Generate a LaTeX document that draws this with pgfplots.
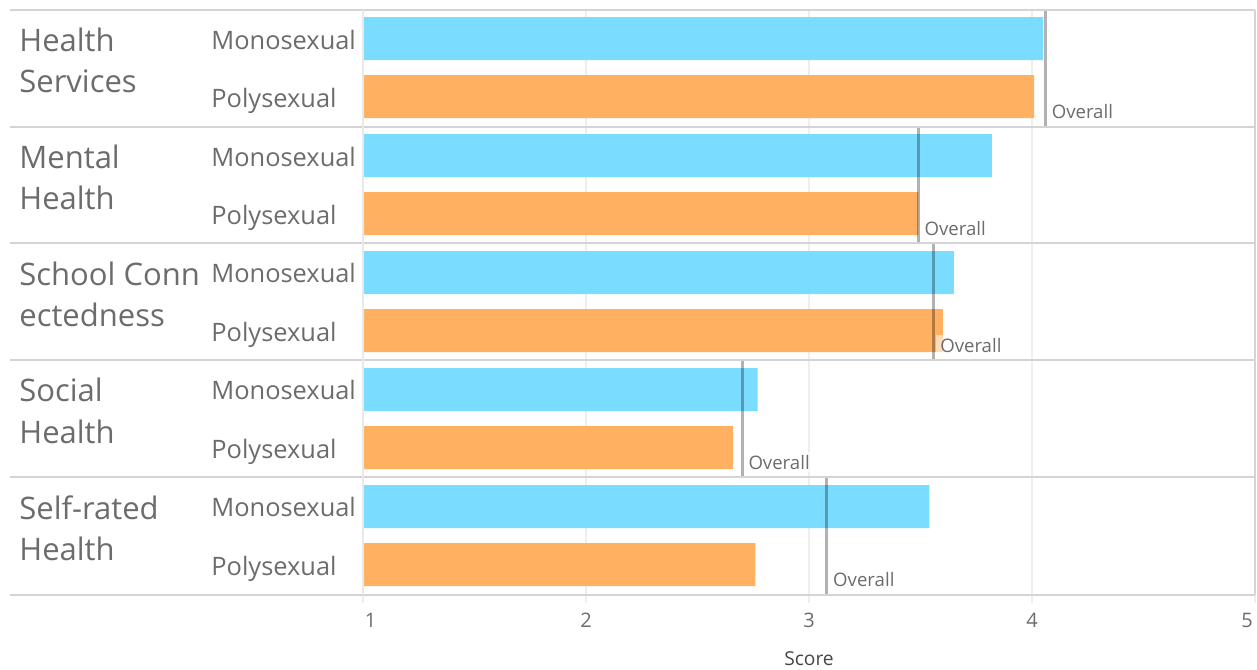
\documentclass[border=0pt]{standalone}
\usepackage{pgfplots}
\usepackage{pgfplotstable}
\pgfplotsset{compat=1.18}
\usepackage{fontspec}
\setmainfont{Open Sans}
\definecolor{mono}{RGB}{122,220,255}
\definecolor{poly}{RGB}{255,176,97}
\definecolor{txt}{RGB}{108,108,108}
\definecolor{sep}{RGB}{212,212,212}
\definecolor{gridc}{RGB}{238,238,238}
\definecolor{scorec}{RGB}{70,70,70}
\newcommand\gfont{\fontsize{15.5}{18}\selectfont}
\newcommand\sfont{\fontsize{12.7}{15}\selectfont}
\newcommand\ofont{\fontsize{9.3}{11}\selectfont}

\pgfplotstableread{
y mono
4.756 4.05
3.756 3.82
2.756 3.65
1.756 2.77
0.756 3.54
}\monotab
\pgfplotstableread{
y poly
4.259 4.01
3.259 3.49
2.259 3.60
1.259 2.66
0.259 2.76
}\polytab

\begin{document}
\begin{tikzpicture}
\path[use as bounding box] (-181.5pt,-37pt) rectangle (447pt,297.5pt);
\begin{axis}[
  at={(0,0)}, anchor=south west,
  scale only axis, width=446pt, height=292.5pt,
  xmin=1, xmax=5, ymin=0, ymax=5,
  xtick={1,2,3,4,5},
  xticklabels={\hspace*{7.5pt}1,2,3,4,5\hspace*{8pt}},
  ytick=\empty,
  xmajorgrids, grid style={color=gridc, line width=0.6pt},
  axis line style={draw=none},
  xtick pos=bottom, tick align=outside, major tick length=4pt,
  tick style={color=gridc, line width=0.6pt},
  xticklabel style={font=\fontsize{10}{12}\selectfont, text=txt, anchor=base, yshift=-12pt},
  xlabel={Score},
  xlabel style={font=\fontsize{9.6}{11}\selectfont, text=scorec, at={(axis description cs:0.5,0)}, anchor=base, yshift=-35pt},
]
\addplot[xbar, bar width=0.368, bar shift=0pt, fill=mono, draw=none] table[x=mono, y=y] {\monotab};
\addplot[xbar, bar width=0.368, bar shift=0pt, fill=poly, draw=none] table[x=poly, y=y] {\polytab};
\addplot[black, opacity=0.3, line width=1.5pt] coordinates {(4.06,4) (4.06,5)};
\addplot[black, opacity=0.3, line width=1.5pt] coordinates {(3.49,3) (3.49,4)};
\addplot[black, opacity=0.3, line width=1.5pt] coordinates {(3.56,2) (3.56,3)};
\addplot[black, opacity=0.3, line width=1.5pt] coordinates {(2.70,1) (2.70,2)};
\addplot[black, opacity=0.3, line width=1.5pt] coordinates {(3.08,0) (3.08,1)};
\begin{scope}[every node/.style={font=\ofont, text=txt, anchor=base west, fill=white, fill opacity=0.55, text opacity=1, inner xsep=2.2pt, inner ysep=1.5pt, xshift=0.8pt, yshift=4.5pt}]
\node at (axis cs:4.06,4) {Overall};
\node at (axis cs:3.49,3) {Overall};
\node at (axis cs:3.56,2) {Overall};
\node at (axis cs:2.70,1) {Overall};
\node at (axis cs:3.08,0) {Overall};
\end{scope}
\end{axis}
\begin{scope}[shift={(-181.5pt,297.5pt)}, x=0.5pt, y=-0.5pt]
  \foreach \yy in {10,127,243.5,360,477,595} {
    \draw[sep, line width=1pt] (10,\yy) -- (1255,\yy);
  }
  \draw[gridc!80!sep, line width=0.6pt] (363,10) -- (363,595);
  \draw[sep, line width=0.8pt] (1255,10) -- (1255,595);
  \begin{scope}[every node/.style={anchor=base west, inner sep=0pt, text=txt}]
    \foreach \t/\a/\b in {10/Health/Services, 127/Mental/Health, 243.5/School Conn/ectedness, 360/Social/Health, 477/Self-rated/Health} {
      \node[font=\gfont] at (19,\t+42) {\a};
      \node[font=\gfont] at (19,\t+83) {\b};
      \node[font=\sfont] at (211,\t+39.5) {Monosexual};
      \node[font=\sfont] at (211,\t+98) {Polysexual};
    }
  \end{scope}
\end{scope}
\end{tikzpicture}
\end{document}
